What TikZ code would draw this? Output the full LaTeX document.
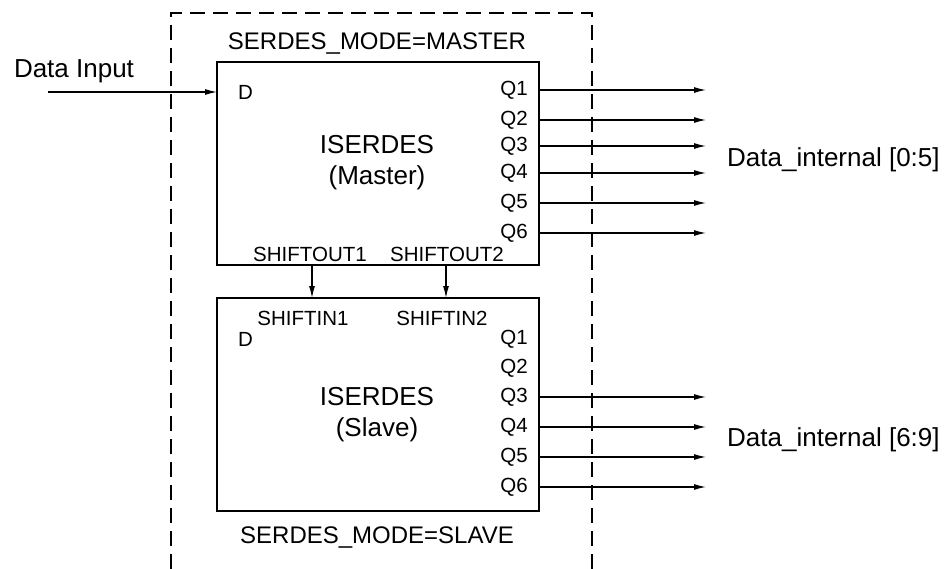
\documentclass[tikz,border=0pt]{standalone}
\usepackage{fontspec}
\setmainfont{Liberation Sans}
\usetikzlibrary{arrows.meta}
\begin{document}
\begin{tikzpicture}[x=1pt,y=-1pt,
  blk/.style={draw, line width=2.4pt, minimum width=322pt, inner sep=0pt, outer sep=0pt, anchor=north west},
  pinlbl/.style={font=\fontsize{20.5}{24}\selectfont, inner sep=0pt},
  biglbl/.style={font=\fontsize{26}{30}\selectfont, inner sep=0pt},
  modelbl/.style={font=\fontsize{24}{28}\selectfont, inner sep=0pt},
  sig/.style={line width=1.2pt, -{Latex[length=12pt,width=6pt]}},
  frameline/.style={line width=1.2pt, dash pattern=on 15pt off 8pt}]
\useasboundingbox (0,0) rectangle (952,569);
% dashed frame
\coordinate (fbl) at (171,569);
\coordinate (ftl) at (171,13);
\coordinate (ftr) at (592,13);
\coordinate (fbr) at (592,569);
\draw[frameline] (fbl) -- (ftl) -- (ftr) -- (fbr);
% blocks
\node[blk, minimum height=203pt] (master) at (217,62) {};
\node[blk, minimum height=213pt] (slave) at (217,298) {};
% labels
\node[modelbl] (mmode) at (377,44) {SERDES\_MODE=MASTER};
\node[modelbl] (smode) at (377,538) {SERDES\_MODE=SLAVE};
\node[biglbl] (mname) at (377,145) {ISERDES};
\node[biglbl] (mrole) at (377,178) {(Master)};
\node[biglbl] (sname) at (377,397) {ISERDES};
\node[biglbl] (srole) at (377,430) {(Slave)};
\node[biglbl] (din) at (74,71) {Data Input};
\node[biglbl, anchor=west] (dlo) at (727,160) {Data\_internal [0:5]};
\node[biglbl, anchor=west] (dhi) at (727,440) {Data\_internal [6:9]};
% pins master
\node[pinlbl, anchor=west] (md) at (238,92) {D};
\node[pinlbl, anchor=east] (mq1) at (528,90) {Q1};
\node[pinlbl, anchor=east] (mq2) at (528,120) {Q2};
\node[pinlbl, anchor=east] (mq3) at (528,146) {Q3};
\node[pinlbl, anchor=east] (mq4) at (528,173) {Q4};
\node[pinlbl, anchor=east] (mq5) at (528,203) {Q5};
\node[pinlbl, anchor=east] (mq6) at (528,233) {Q6};
\node[pinlbl] (so1) at (310,254) {SHIFTOUT1};
\node[pinlbl] (so2) at (447,254) {SHIFTOUT2};
% pins slave
\node[pinlbl, anchor=west] (sd) at (238,339) {D};
\node[pinlbl] (si1) at (303,318) {SHIFTIN1};
\node[pinlbl] (si2) at (442,318) {SHIFTIN2};
\node[pinlbl, anchor=east] (sq1) at (528,339) {Q1};
\node[pinlbl, anchor=east] (sq2) at (528,368) {Q2};
\node[pinlbl, anchor=east] (sq3) at (528,397) {Q3};
\node[pinlbl, anchor=east] (sq4) at (528,427) {Q4};
\node[pinlbl, anchor=east] (sq5) at (528,457) {Q5};
\node[pinlbl, anchor=east] (sq6) at (528,487) {Q6};
% connectors
\coordinate (dsrc) at (48,92);
\draw[sig] (dsrc) -- (dsrc -| master.west);
\coordinate (c1a) at (312,265);
\coordinate (c2a) at (446,265);
\draw[sig] (master.south -| c1a) -- (slave.north -| c1a);
\draw[sig] (master.south -| c2a) -- (slave.north -| c2a);
\coordinate (tipx) at (706,0);
\foreach \q in {mq1,mq2,mq3,mq4,mq5,mq6,sq3,sq4,sq5,sq6}{
  \draw[sig] (\q.east -| master.east) -- (\q.east -| tipx);
}
\end{tikzpicture}
\end{document}
